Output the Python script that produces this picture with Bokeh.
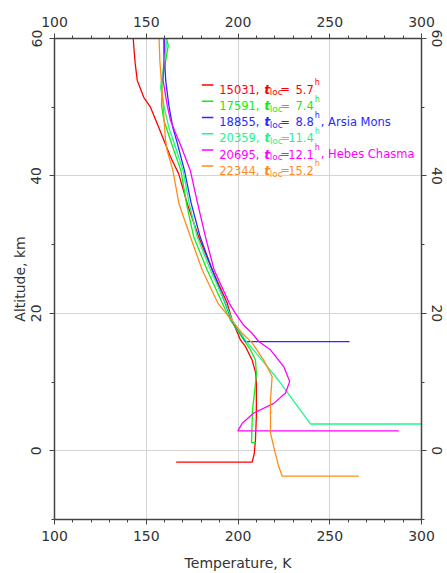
from bokeh.plotting import figure
from bokeh.models import Range1d, LinearAxis, SingleIntervalTicker, ColumnDataSource
from bokeh.core.properties import value
from bokeh.embed import file_html
from bokeh.resources import INLINE

# ---- data ----
orbits = ["15031", "17591", "18855", "20359", "20695", "22344"]
loc_times = ["5.7", "7.4", "8.8", "11.4", "12.1", "15.2"]
sites = ["", "", "Arsia Mons", "", "Hebes Chasma", ""]
colors = ["#ff0000", "#11ee11", "#2a2aff", "#22f58c", "#ff00ff", "#ff8c1a"]

temp_15031 = [142.9, 143.3, 144.0, 145.1, 148.7, 152.3, 156.0, 159.6, 163.2, 167.7, 172.3, 178.6,
              186.0, 194.1, 196.8, 201.4, 204.0, 207.7, 209.5, 210.0, 210.0, 209.5, 208.8, 207.7, 166.3]
alt_15031 = [60.0, 58.5, 56.3, 53.9, 51.4, 50.0, 47.6, 45.2, 42.8, 40.3, 36.0, 31.1,
             26.3, 21.5, 19.0, 16.1, 15.2, 13.2, 11.5, 10.0, 5.0, 1.5, -0.5, -1.65, -1.65]

temp_17591 = [161.0, 162.0, 158.7, 158.3, 159.6, 163.2, 166.9, 168.9, 171.9, 175.9, 183.2, 191.4,
              195.9, 203.2, 206.8, 209.5, 210.0, 209.2, 207.9, 207.4, 209.7]
alt_17591 = [60.0, 59.0, 53.9, 50.3, 48.1, 45.2, 42.3, 40.8, 36.0, 31.1, 26.3, 21.5,
             19.0, 16.1, 14.7, 13.2, 11.3, 8.9, 6.0, 1.2, 1.2]

temp_18855 = [160.0, 160.0, 160.6, 162.3, 164.5, 166.5, 170.8, 174.5, 179.4, 186.0, 193.0, 196.5,
              201.4, 204.1, 260.8]
alt_18855 = [60.0, 56.8, 53.9, 50.3, 47.0, 45.2, 40.8, 36.0, 31.1, 26.3, 21.5, 19.0,
             17.1, 15.9, 15.9]

temp_20359 = [161.4, 159.5, 157.8, 160.5, 162.3, 164.7, 170.1, 173.4, 177.8, 185.0, 193.2, 196.8,
              204.0, 222.0, 239.5, 300.0]
alt_20359 = [60.0, 56.0, 52.9, 49.1, 47.1, 45.2, 40.8, 36.0, 31.1, 26.3, 21.5, 19.0,
             16.1, 10.3, 3.9, 3.9]

temp_20695 = [159.5, 159.6, 159.2, 161.4, 163.2, 165.4, 168.7, 174.0, 178.0, 182.3, 187.0, 195.2,
              198.6, 203.0, 207.7, 211.3, 217.7, 225.0, 228.2, 225.9, 219.5, 208.6, 202.3, 199.9, 287.6]
alt_20695 = [60.0, 56.8, 53.9, 50.3, 48.1, 46.6, 44.5, 40.8, 36.0, 31.1, 26.3, 21.5,
             20.0, 18.3, 17.1, 15.9, 14.7, 12.2, 10.1, 8.4, 6.9, 5.5, 4.0, 2.9, 2.9]

temp_22344 = [157.0, 157.4, 159.2, 160.5, 161.4, 164.5, 167.8, 174.1, 180.5, 189.0, 193.5, 202.3,
              207.7, 214.0, 218.6, 217.7, 217.7, 219.9, 222.2, 224.1, 265.8]
alt_22344 = [60.0, 56.8, 50.3, 45.2, 43.7, 40.8, 36.0, 31.1, 26.3, 21.5, 20.0, 17.1,
             15.7, 13.2, 10.8, 7.4, 2.6, 0.1, -2.3, -3.7, -3.7]

temps = [temp_15031, temp_17591, temp_18855, temp_20359, temp_20695, temp_22344]
alts = [alt_15031, alt_17591, alt_18855, alt_20359, alt_20695, alt_22344]

FONT = "DejaVu Sans"
AX_COL = "#444444"
TXT_COL = "#333333"

p = figure(width=447, height=573,
           x_range=Range1d(100, 300), y_range=Range1d(-10, 60),
           output_backend="svg", toolbar_location=None,
           min_border_left=54, min_border_right=26, min_border_top=38, min_border_bottom=54,
           x_axis_label="Temperature, K", y_axis_label="Altitude, km")
p.outline_line_color = None
p.background_fill_color = "white"
p.border_fill_color = "white"

xt = SingleIntervalTicker(interval=50, num_minor_ticks=5)
yt = SingleIntervalTicker(interval=20, num_minor_ticks=2)
p.xaxis.ticker = xt
p.yaxis.ticker = yt
p.add_layout(LinearAxis(ticker=xt), "above")
p.add_layout(LinearAxis(ticker=yt), "right")

for ax in p.axis:
    ax.axis_line_color = AX_COL
    ax.axis_line_width = 1.5
    ax.major_tick_line_color = AX_COL
    ax.minor_tick_line_color = AX_COL
    ax.major_tick_in = 0
    ax.major_tick_out = 5
    ax.minor_tick_in = 0
    ax.minor_tick_out = 3
    ax.major_label_text_font = FONT
    ax.major_label_text_font_size = "14px"
    ax.major_label_text_color = TXT_COL
    ax.axis_label_text_font = FONT
    ax.axis_label_text_font_size = "14px"
    ax.axis_label_text_font_style = "normal"
    ax.axis_label_text_color = TXT_COL

p.below[0].major_label_standoff = 6
p.below[0].axis_label_standoff = 11
p.above[0].major_label_standoff = 7
p.left[0].major_label_standoff = 8
p.left[0].axis_label_standoff = 1
p.right[0].major_label_standoff = 5
p.left[0].major_label_orientation = "vertical"
p.right[0].major_label_orientation = "vertical"

p.xgrid.grid_line_color = "#d4d4d4"
p.ygrid.grid_line_color = "#d4d4d4"
p.xgrid.grid_line_width = 1
p.ygrid.grid_line_width = 1

for t, a, c in zip(temps, alts, colors):
    p.line(t, a, line_color=c, line_width=1.3)

# ---- legend ----
leg_x0, leg_x1, txt_x = 180.3, 186.6, 189.8
base_top, step = 52.6, 2.36
seg_x0, seg_x1, seg_y = [], [], []
pieces = dict(x=[], y=[], text=[], color=[], xo=[], size=[], style=[], align=[])


def add(y, text, color, xo, size, style="normal", align="left"):
    pieces["x"].append(txt_x)
    pieces["y"].append(y)
    pieces["text"].append(text)
    pieces["color"].append(color)
    pieces["xo"].append(xo)
    pieces["size"].append(size)
    pieces["style"].append(style)
    pieces["align"].append(align)


for i, (orb, lt, site, c) in enumerate(zip(orbits, loc_times, sites, colors)):
    yb = base_top - i * step
    seg_x0.append(leg_x0)
    seg_x1.append(leg_x1)
    seg_y.append(yb + 0.63)
    add(yb, orb + ",", c, 0, "11.5px")
    add(yb, "t", c, 45.0, "12.5px", "bold italic")
    add(yb - 0.45, "loc", c, 50.5, "9px")
    add(yb, "=", c, 61, "11.5px")
    add(yb, lt, c, 94.5, "11.5px", align="right")
    add(yb + 0.95, "h", c, 95.5, "8px")
    if site:
        add(yb, ", " + site, c, 101.5, "11.5px")

p.segment(x0=seg_x0, x1=seg_x1, y0=seg_y, y1=seg_y, line_color=colors, line_width=1.5)
src = ColumnDataSource(pieces)
p.text(x="x", y="y", text="text", text_color="color", x_offset="xo",
       text_font_size="size", text_font_style="style", text_align="align",
       text_baseline="alphabetic", text_font=value(FONT), source=src)

open("out.html", "w").write(file_html(p, INLINE))
